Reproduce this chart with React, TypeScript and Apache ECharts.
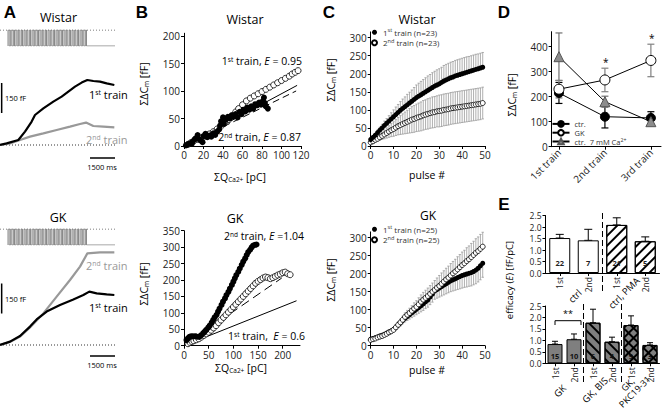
import React, { useEffect, useRef } from "react";
import * as echarts from "echarts";

const FONT = '"Open Sans", "DejaVu Sans", sans-serif';

// ---------- Panel A: capacitance traces (time in ms, ΣΔCm in fF) ----------
const aWistarTime1 = [0, 400, 1100, 1500, 1900, 2100, 2600, 3200, 3700, 4100, 4500, 4900, 5240, 5600, 6000, 6400, 6860];
const aWistarCap1 = [0, 8, 25, 67, 117, 150, 183, 217, 242, 267, 292, 312, 325, 320, 317, 308, 300];
const aWistarTime2 = [0, 600, 1200, 1800, 2600, 3400, 4200, 4800, 5160, 5600, 6200, 6860];
const aWistarCap2 = [0, 8, 25, 42, 58, 75, 92, 105, 112, 95, 92, 88];
const aGkTime1 = [0, 600, 1200, 1800, 2200, 2800, 3600, 4400, 5000, 5360, 5800, 6400, 6860];
const aGkCap1 = [0, 17, 45, 92, 128, 167, 200, 228, 250, 267, 258, 253, 250];
const aGkTime2 = [0, 600, 1200, 1800, 2600, 3400, 4200, 4800, 5240, 6000, 6860];
const aGkCap2 = [0, 15, 42, 88, 158, 242, 325, 392, 458, 463, 463];
// stimulation protocol
const pulseCount = 30;
const pulseStartMs = 480;
const pulsePeriodMs = 160;
const pulseWidthMs = 70;
const traceEndMs = 6900;
const scaleBarFF = 150;
const scaleBarMs = 1500;

// ---------- Panel B: ΣΔCm vs ΣQCa ----------
const bWistarTrain1 = [[2,1],[4,3],[6,5],[8,4],[9,8],[11,12],[12,14],[14,20],[15,13],[17,10],[19,7],[20,18],[22,22],[24,16],[26,19],[28,17],[30,23],[32,20],[34,26],[36,30],[37,37],[38,45],[40,52],[41,40],[43,48],[45,53],[47,50],[49,56],[51,54],[53,58],[55,52],[57,62],[59,58],[61,66],[63,63],[65,70],[67,66],[69,72],[71,68],[73,76],[75,74],[77,79],[79,75],[81,82],[82,88],[83,78],[84,72],[86,68]];
const bWistarTrain2 = [[4,3],[7,6],[10,9],[14,12],[18,15],[22,18],[26,22],[30,26],[34,31],[38,36],[42,42],[46,48],[50,55],[53,62],[56,68],[60,75],[64,82],[68,87],[72,91],[76,95],[80,99],[84,103],[88,107],[92,111],[96,115],[100,119],[104,123],[108,127],[111,131],[114,134],[117,137]];
const bGkTrain1 = [[5,17],[8,22],[11,27],[15,29],[18,28],[22,29],[25,28],[29,27],[32,28],[35,32],[39,38],[42,43],[45,48],[49,55],[52,61],[56,70],[59,78],[62,86],[66,94],[69,104],[72,113],[76,124],[79,134],[83,144],[86,154],[90,164],[93,174],[97,185],[100,195],[103,205],[106,215],[110,225],[113,235],[117,246],[120,256],[124,266],[127,276],[130,285],[134,292],[137,299],[140,305],[144,307],[147,308]];
const bGkTrain2 = [[8,6],[12,10],[16,13],[20,15],[25,18],[30,21],[35,26],[40,31],[45,36],[50,41],[55,47],[60,54],[65,61],[70,70],[75,78],[80,86],[85,94],[90,102],[95,110],[100,118],[105,126],[110,134],[115,142],[120,150],[125,158],[130,166],[135,174],[140,182],[145,190],[150,196],[155,201],[160,206],[165,209],[170,207],[175,204],[180,207],[185,211],[190,215],[195,218],[200,222],[205,224],[210,219],[215,216]];
const bWistarFit = { solidE: 0.95, solidEnd: 116, dashedE: 0.87, dashedEnd: 115 };
const bGkFit = { solidE: 0.6, solidEnd: 228, dashedE: 1.04, dashedEnd: 198 };
const bWistarXTicks = [0, 20, 40, 60, 80, 100, 120];
const bWistarYTicks = [0, 50, 100, 150, 200];
const bGkXTicks = [0, 50, 100, 150, 200];
const bGkYTicks = [0, 50, 100, 150, 200, 250, 300, 350];

// ---------- Panel C: cumulative ΣΔCm per pulse ----------
const cPulses = [0,1,2,3,4,5,6,7,8,9,10,11,12,13,14,15,16,17,18,19,20,21,22,23,24,25,26,27,28,29,30,31,32,33,34,35,36,37,38,39,40,41,42,43,44,45,46,47,48,49];
const cWistarMean1 = [18,24,30,37,44,50,57,63,69,75,81,87,93,99,104,109,114,119,124,129,134,138,142,146,150,154,158,162,166,169,172,176,180,183,186,189,191,194,196,198,200,202,204,206,208,210,212,214,216,218];
const cWistarSem1 = [2,4,5,7,8,10,12,13,15,17,19,21,22,24,26,27,29,30,31,33,35,36,37,38,39,40,40,41,41,42,42,42,43,43,43,43,43,43,43,43,43,43,43,42,42,42,42,41,41,41];
const cWistarMean2 = [10,13,17,20,24,28,32,36,40,44,47,51,55,58,61,64,67,70,73,75,78,80,82,85,87,89,91,93,94,96,97,98,100,101,102,104,105,106,107,108,109,110,111,112,113,114,115,116,117,119];
const cWistarSem2 = [2,3,5,6,8,10,12,14,16,18,20,22,24,26,28,30,32,34,36,37,38,39,40,41,41,42,42,43,43,43,44,44,44,44,44,44,44,44,44,44,44,44,44,44,44,44,44,44,44,44];
const cGkMean1 = [18,20,22,24,27,29,32,35,38,41,45,51,57,63,70,76,81,86,91,96,101,106,111,116,122,127,135,143,152,156,160,164,168,172,176,180,183,186,189,192,195,197,199,201,203,206,210,215,222,229];
const cGkSem1 = [1,1,2,2,2,3,3,3,4,4,5,6,7,8,9,10,11,12,13,14,15,16,17,18,19,20,21,22,23,24,25,26,27,28,29,30,31,32,33,34,35,35,36,36,37,37,38,38,39,39];
const cGkMean2 = [16,18,20,23,25,27,30,33,37,40,44,51,58,65,72,80,86,91,97,103,108,115,122,128,133,138,144,150,155,161,166,172,178,184,189,195,201,206,212,218,224,229,235,240,246,252,258,263,269,275];
const cGkSem2 = [1,1,2,2,3,3,4,4,5,5,6,7,8,9,10,11,12,13,14,16,17,18,19,20,21,22,23,24,26,27,29,30,30,31,32,33,33,34,35,35,36,36,37,37,38,38,39,39,40,40];
const cXTicks = [0, 10, 20, 30, 40, 50];
const cYTicks = [0, 50, 100, 150, 200, 250, 300];

// ---------- Panel D ----------
const dTrains = ["1st train", "2nd train", "3rd train"];
const dCtrMean = [215, 120, 115];
const dCtrSem = [42, 45, 25];
const dGkMean = [230, 267, 345];
const dGkSem = [35, 47, 65];
const dCaMean = [360, 180, 100];
const dCaSem = [95, 22, 15];
const dYTicks = [0, 100, 200, 300, 400];

// ---------- Panel E ----------
const eTopCats = ["1st", "2nd", "1st", "2nd"];
const eTopMean = [1.52, 1.42, 2.09, 1.38];
const eTopSem = [0.16, 0.48, 0.31, 0.19];
const eTopN = [22, 7, 21, 5];
const eBotCats = ["1st", "2nd", "1st", "2nd", "1st", "2nd"];
const eBotMean = [0.84, 1.05, 1.77, 0.94, 1.67, 0.8];
const eBotSem = [0.12, 0.23, 0.59, 0.2, 0.4, 0.1];
const eBotN = [15, 10, 6, 4, 9, 3];

// ---------------------------------------------------------------------------
function zip(xs: number[], ys: number[]) {
  return xs.map((x, i) => [x, ys[i]]);
}

function stimulus() {
  const pts: number[][] = [[pulseStartMs, 0]];
  for (let i = 0; i < pulseCount; i++) {
    const t = pulseStartMs + i * pulsePeriodMs;
    pts.push([t, 0], [t, 1], [t + pulseWidthMs, 1], [t + pulseWidthMs, 0]);
  }
  pts.push([traceEndMs, 0]);
  return pts;
}

function errRender(capHalf: number, color: string, width: number) {
  return (params: any, api: any) => {
    const x = api.value(0);
    const a = api.coord([x, api.value(1)]);
    const b = api.coord([x, api.value(2)]);
    const st = { stroke: color, lineWidth: width };
    return {
      type: "group",
      children: [
        { type: "line", shape: { x1: a[0], y1: a[1], x2: b[0], y2: b[1] }, style: st },
        { type: "line", shape: { x1: b[0] - capHalf, y1: b[1], x2: b[0] + capHalf, y2: b[1] }, style: st },
        { type: "line", shape: { x1: a[0] - capHalf, y1: a[1], x2: a[0] + capHalf, y2: a[1] }, style: st },
      ],
    };
  };
}

const richG = (size: number, fill = "#000") => ({
  n: { fontSize: size, fontFamily: FONT, fill },
  s: { fontSize: size * 0.62, fontFamily: FONT, fill, verticalAlign: "top" },
  b: { fontSize: size * 0.62, fontFamily: FONT, fill, verticalAlign: "bottom" },
  i: { fontSize: size, fontFamily: FONT, fill, fontStyle: "italic" },
});

function txt(x: number, y: number, text: string, o: any = {}) {
  const size = o.size || 11;
  const fill = o.fill || "#000";
  return {
    type: "text",
    x,
    y,
    rotation: o.rotation || 0,
    silent: true,
    style: {
      text,
      fill,
      fontSize: size,
      fontFamily: o.family || FONT,
      fontWeight: o.weight || "normal",
      align: o.align || "center",
      textAlign: o.align || "center",
      verticalAlign: "middle",
      textVerticalAlign: "middle",
      lineHeight: o.lineHeight,
      rich: richG(size, fill),
    },
  };
}

function valueAxis(gridIndex: number, min: number, max: number, extra: any = {}) {
  return {
    type: "value",
    gridIndex,
    min,
    max,
    interval: extra.interval,
    axisLine: { show: true, onZero: false, lineStyle: { color: "#000", width: 1 } },
    axisTick: {
      show: true,
      length: 3,
      lineStyle: { color: "#000", width: 1 },
      customValues: extra.ticks,
    },
    axisLabel: {
      show: true,
      fontFamily: FONT,
      fontSize: extra.fontSize || 10,
      lineHeight: extra.lineHeight,
      color: "#222",
      margin: 4,
      customValues: extra.ticks,
      formatter: extra.formatter,
      rotate: extra.rotate || 0,
    },
    splitLine: { show: false },
  };
}

function catAxis(gridIndex: number, data: string[]) {
  return {
    type: "category",
    gridIndex,
    data,
    axisLine: { show: true, onZero: false, lineStyle: { color: "#000", width: 1 } },
    axisTick: { show: true, length: 3, alignWithLabel: true, lineStyle: { color: "#000" } },
    axisLabel: { show: true, interval: 0, rotate: 90, fontFamily: FONT, fontSize: 8.5, color: "#222", margin: 4 },
    splitLine: { show: false },
  };
}

const hidden = (gridIndex: number, min: number, max: number) => ({ type: "value", gridIndex, min, max, show: false });

function buildOption() {
  const grid = [
    { left: 0, top: 30, width: 120, height: 16 },
    { left: 0, top: 70, width: 120, height: 100 },
    { left: 0, top: 229, width: 120, height: 16 },
    { left: 0, top: 240, width: 120, height: 130 },
    { left: 184, top: 33.25, width: 117, height: 112.75 },
    { left: 184, top: 230.7, width: 116, height: 115 },
    { left: 370.7, top: 31.9, width: 114.3, height: 114.1 },
    { left: 370.7, top: 231.9, width: 114.3, height: 113.8 },
    { left: 551.6, top: 31.7, width: 109.4, height: 115 },
    { left: 545.5, top: 215.5, width: 114, height: 57.5 },
    { left: 545.5, top: 306, width: 114, height: 57.3 },
  ].map((g) => ({ ...g, outerBoundsMode: "none", containLabel: false }));

  const eTickFmt = (v: number) => v.toFixed(1);
  const xAxis = [
    hidden(0, 0, 7200),
    hidden(1, 0, 7200),
    hidden(2, 0, 7200),
    hidden(3, 0, 7200),
    valueAxis(4, 0, 120, { ticks: bWistarXTicks }),
    valueAxis(5, 0, 235, { ticks: bGkXTicks }),
    valueAxis(6, 0, 50, { ticks: cXTicks }),
    valueAxis(7, 0, 50, { ticks: cXTicks }),
    valueAxis(8, -0.16, 2.22, { ticks: [0, 1, 2], rotate: 45, formatter: (v: number) => dTrains[Math.round(v)] || "" }),
    catAxis(9, eTopCats),
    catAxis(10, eBotCats),
  ];
  const yAxis = [
    hidden(0, 0, 1),
    hidden(1, -125, 375),
    hidden(2, 0, 1),
    hidden(3, -125, 525),
    valueAxis(4, 0, 205, { ticks: bWistarYTicks }),
    valueAxis(5, 0, 350, { ticks: bGkYTicks }),
    valueAxis(6, 0, 316, { ticks: cYTicks }),
    valueAxis(7, 0, 316, { ticks: cYTicks }),
    valueAxis(8, 0, 460, { ticks: dYTicks }),
    valueAxis(9, 0, 2.5, { interval: 0.5, fontSize: 8.5, lineHeight: 9, formatter: eTickFmt }),
    valueAxis(10, 0, 2.5, { interval: 0.5, fontSize: 8.5, lineHeight: 9, formatter: eTickFmt }),
  ];

  const line = (idx: number, data: any, color: string, width: number, type: any = "solid", z = 2) => ({
    type: "line",
    xAxisIndex: idx,
    yAxisIndex: idx,
    data,
    showSymbol: false,
    symbol: "none",
    silent: true,
    z,
    lineStyle: { color, width, type },
  });

  const series: any[] = [];
  // ---- A: Wistar
  series.push(line(0, [[0, 1], [traceEndMs, 1]], "#555", 1, [1, 2]));
  series.push(line(0, stimulus(), "#8a8a8a", 1));
  series.push(line(1, [[0, 0], [traceEndMs, 0]], "#333", 1, [1, 2]));
  series.push(line(1, zip(aWistarTime2, aWistarCap2), "#999", 2.2));
  series.push(line(1, zip(aWistarTime1, aWistarCap1), "#000", 2.2));
  series.push(line(1, [[100, 160], [100, 160 + scaleBarFF]], "#000", 1.5));
  series.push(line(1, [[traceEndMs - scaleBarMs, -65], [traceEndMs, -65]], "#000", 1.5));
  // ---- A: GK
  series.push(line(2, [[0, 1], [traceEndMs, 1]], "#555", 1, [1, 2]));
  series.push(line(2, stimulus(), "#8a8a8a", 1));
  series.push(line(3, [[0, 0], [traceEndMs, 0]], "#333", 1, [1, 2]));
  series.push(line(3, zip(aGkTime2, aGkCap2), "#999", 2.2));
  series.push(line(3, zip(aGkTime1, aGkCap1), "#000", 2.2));
  series.push(line(3, [[100, 158], [100, 158 + scaleBarFF]], "#000", 1.5));
  series.push(line(3, [[traceEndMs - scaleBarMs, -55], [traceEndMs, -55]], "#000", 1.5));

  // ---- B
  const openSc = (idx: number, data: any, size = 6) => ({
    type: "scatter", xAxisIndex: idx, yAxisIndex: idx, data, symbol: "circle", symbolSize: size, silent: true,
    itemStyle: { color: "#fff", borderColor: "#000", borderWidth: 0.8, opacity: 1 },
  });
  const fillSc = (idx: number, data: any, size = 6) => ({
    type: "scatter", xAxisIndex: idx, yAxisIndex: idx, data, symbol: "circle", symbolSize: size, silent: true,
    itemStyle: { color: "#000", borderColor: "#000", borderWidth: 0, opacity: 1 },
  });
  series.push(openSc(4, bWistarTrain2));
  series.push(line(4, [[0, 0], [bWistarFit.solidEnd, bWistarFit.solidE * bWistarFit.solidEnd]], "#000", 1));
  series.push(line(4, [[0, 0], [bWistarFit.dashedEnd, bWistarFit.dashedE * bWistarFit.dashedEnd]], "#000", 1, [7, 4]));
  series.push(fillSc(4, bWistarTrain1));
  series.push(openSc(5, bGkTrain2));
  series.push(line(5, [[0, 0], [bGkFit.solidEnd, bGkFit.solidE * bGkFit.solidEnd]], "#000", 1));
  series.push(line(5, [[0, 0], [bGkFit.dashedEnd, bGkFit.dashedE * bGkFit.dashedEnd]], "#000", 1, [9, 5]));
  series.push(fillSc(5, bGkTrain1));

  // ---- C
  const cErr = (idx: number, data: any) => ({
    type: "custom", xAxisIndex: idx, yAxisIndex: idx, data, silent: true, z: 1,
    encode: { x: 0, y: [1, 2] },
    renderItem: errRender(1.2, "#9a9a9a", 0.8),
  });
  series.push(cErr(6, cPulses.map((p, i) => [p, cWistarMean1[i], cWistarMean1[i] + cWistarSem1[i]])));
  series.push(cErr(6, cPulses.map((p, i) => [p, cWistarMean2[i] - cWistarSem2[i], cWistarMean2[i] + cWistarSem2[i]])));
  series.push({ ...openSc(6, zip(cPulses, cWistarMean2), 5), name: "cW2" });
  series.push({ ...fillSc(6, zip(cPulses, cWistarMean1), 5), name: "cW1" });
  series.push(cErr(7, cPulses.map((p, i) => [p, cGkMean1[i], cGkMean1[i] - cGkSem1[i]])));
  series.push(cErr(7, cPulses.map((p, i) => [p, cGkMean2[i], cGkMean2[i] + cGkSem2[i]])));
  series.push({ ...fillSc(7, zip(cPulses, cGkMean1), 5), name: "cG1" });
  series.push({ ...openSc(7, zip(cPulses, cGkMean2), 5), name: "cG2" });

  // ---- D
  const dErr = (mean: number[], sem: number[], color: string) => ({
    type: "custom", xAxisIndex: 8, yAxisIndex: 8, silent: true, z: 1,
    encode: { x: 0, y: [1, 2] },
    data: mean.map((m, i) => [i, m - sem[i], m + sem[i]]),
    renderItem: errRender(3.5, color, 1.2),
  });
  series.push(dErr(dCtrMean, dCtrSem, "#000"));
  series.push(dErr(dCaMean, dCaSem, "#707070"));
  series.push(dErr(dGkMean, dGkSem, "#808080"));
  const dLine = (name: string, mean: number[], symbol: string, size: number, itemStyle: any) => ({
    type: "line", name, xAxisIndex: 8, yAxisIndex: 8, z: 3,
    data: mean.map((m, i) => [i, m]),
    symbol, symbolSize: size, showSymbol: true, silent: true,
    lineStyle: { color: "#000", width: 1 },
    itemStyle,
  });
  series.push(dLine("ctr.", dCtrMean, "circle", 9, { color: "#000", borderColor: "#000", borderWidth: 1 }));
  series.push(dLine("ctr. 7 mM Ca2+", dCaMean, "triangle", 10, { color: "#8c8c8c", borderColor: "#555", borderWidth: 1 }));
  series.push(dLine("GK", dGkMean, "circle", 10, { color: "#fff", borderColor: "#000", borderWidth: 1 }));

  // ---- E
  const hatch = (rot: number) => ({
    symbol: "rect", symbolSize: 1, dashArrayX: [1, 0], dashArrayY: [1.2, 5], rotation: rot, color: "#000",
  });
  const topData = eTopMean.map((m, i) => ({
    value: m,
    itemStyle: {
      color: "#fff", borderColor: "#000", borderWidth: 1,
      ...(i >= 2 ? { decal: hatch(-Math.PI / 4) } : {}),
    },
  }));
  series.push({
    type: "custom", xAxisIndex: 9, yAxisIndex: 9, silent: true, z: 1, encode: { x: 0, y: [1, 2] },
    data: eTopMean.map((m, i) => [i, m, m + eTopSem[i]]),
    renderItem: errRender(4, "#000", 1),
  });
  series.push({
    type: "bar", xAxisIndex: 9, yAxisIndex: 9, data: topData, barWidth: 21, silent: true, z: 2,
    label: {
      show: true, position: "insideBottom", distance: 6, fontFamily: FONT, fontSize: 7.5, fontWeight: "bold", color: "#222",
      formatter: (p: any) => String(eTopN[p.dataIndex]),
    },
  });
  const botData = eBotMean.map((m, i) => ({
    value: m,
    itemStyle: {
      color: "#7f7f7f", borderColor: "#000", borderWidth: 1,
      ...(i >= 2 ? { decal: hatch(Math.PI / 4) } : {}),
    },
  }));
  series.push({
    type: "custom", xAxisIndex: 10, yAxisIndex: 10, silent: true, z: 1, encode: { x: 0, y: [1, 2] },
    data: eBotMean.map((m, i) => [i, m, m + eBotSem[i]]),
    renderItem: errRender(3, "#000", 1),
  });
  series.push({
    type: "bar", xAxisIndex: 10, yAxisIndex: 10, data: botData, barWidth: 15, barGap: "-100%", silent: true, z: 2,
    label: {
      show: true, position: "insideBottom", distance: 3, fontFamily: FONT, fontSize: 7.5, fontWeight: "bold", color: "#111",
      formatter: (p: any) => String(eBotN[p.dataIndex]),
    },
  });
  series.push({
    type: "bar", xAxisIndex: 10, yAxisIndex: 10, barWidth: 15, barGap: "-100%", silent: true, z: 3,
    data: eBotMean.map((m, i) =>
      i >= 4 ? { value: m, itemStyle: { color: "rgba(0,0,0,0)", borderWidth: 0, decal: hatch(-Math.PI / 4) } } : "-"
    ),
  });

  const legendText: Record<string, string> = {
    cW1: "{n|1}{s|st}{n| train (n=23)}",
    cW2: "{n|2}{s|nd}{n| train (n=23)}",
    cG1: "{n|1}{s|st}{n| train (n=25)}",
    cG2: "{n|2}{s|nd}{n| train (n=25)}",
    "ctr.": "{n|ctr.}",
    GK: "{n|GK}",
    "ctr. 7 mM Ca2+": "{n|ctr.  7 mM Ca}{s|2+}",
  };
  const legRich = (size: number) => ({
    n: { fontSize: size, fontFamily: FONT, color: "#333" },
    s: { fontSize: size * 0.7, fontFamily: FONT, color: "#333", verticalAlign: "top" },
  });
  const mkLegend = (data: string[], left: number, top: number, iw: number, ih: number, size: number, lh: number, pad = 5) => ({
    data,
    orient: "vertical",
    left,
    top,
    itemWidth: iw,
    itemHeight: ih,
    itemGap: 0,
    padding: 0,
    selectedMode: false,
    formatter: (name: string) => legendText[name],
    textStyle: { fontSize: size, lineHeight: lh, fontFamily: FONT, color: "#333", rich: legRich(size), padding: [0, 0, 0, pad - 5] },
  });
  const legend = [
    mkLegend(["cW1", "cW2"], 371, 27, 5, 5, 8, 10.5, 6),
    mkLegend(["cG1", "cG2"], 371, 224, 5, 5, 8, 10.5, 6),
    mkLegend(["ctr.", "GK", "ctr. 7 mM Ca2+"], 551.5, 119.5, 17, 7, 7.5, 8.8),
  ];

  const bold = { size: 17, weight: "bold", family: '"Liberation Sans", Arial, sans-serif' };
  const yName = "{n|ΣΔC}{b|m}{n| [fF]}";
  const xQName = "{n|ΣQ}{b|Ca2+}{n| [pC]}";
  const graphic: any[] = [
    txt(10, 12, "A", bold),
    txt(142, 12, "B", bold),
    txt(329, 12, "C", bold),
    txt(504, 12, "D", bold),
    txt(504, 204, "E", bold),
    // titles
    txt(58.5, 17, "Wistar", { size: 12.5 }),
    txt(58, 217, "GK", { size: 12.5 }),
    txt(245, 19, "Wistar", { size: 12.5 }),
    txt(235, 218, "GK", { size: 12.5 }),
    txt(417, 19, "Wistar", { size: 12.5 }),
    txt(428, 215.5, "GK", { size: 12 }),
    // A annotations
    txt(89, 94, "{n|1}{s|st}{n| train}", { align: "left", size: 11 }),
    txt(86, 139, "{n|2}{s|nd}{n| train}", { align: "left", size: 11, fill: "#999" }),
    txt(86, 265, "{n|2}{s|nd}{n| train}", { align: "left", size: 11, fill: "#999" }),
    txt(89, 307, "{n|1}{s|st}{n| train}", { align: "left", size: 11 }),
    txt(5, 98, "150 fF", { align: "left", size: 7.5 }),
    txt(5, 299, "150 fF", { align: "left", size: 7.5 }),
    txt(102, 167, "1500 ms", { size: 7.5 }),
    txt(102, 365, "1500 ms", { size: 7.5 }),
    // B annotations
    txt(302, 61, "{n|1}{s|st}{n| train, }{i|E}{n| = 0.95}", { align: "right", size: 10.5 }),
    txt(301, 137, "{n|2}{s|nd}{n| train, }{i|E}{n| = 0.87}", { align: "right", size: 10.5 }),
    txt(304, 236, "{n|2}{s|nd}{n| train, }{i|E}{n| =1.04}", { align: "right", size: 10.5 }),
    txt(305, 336, "{n|1}{s|st}{n| train,  }{i|E}{n| = 0.6}", { align: "right", size: 10.5 }),
    txt(240, 177, xQName, { size: 10.5 }),
    txt(241, 368, xQName, { size: 10.5 }),
    txt(144, 84, yName, { size: 10.5, rotation: Math.PI / 2 }),
    txt(144, 284, yName, { size: 10.5, rotation: Math.PI / 2 }),
    // C
    txt(331, 80, yName, { size: 10.5, rotation: Math.PI / 2 }),
    txt(331, 280, yName, { size: 10.5, rotation: Math.PI / 2 }),
    txt(427, 175, "pulse #", { size: 10.5 }),
    txt(427, 370, "pulse #", { size: 10.5 }),
    // D
    txt(512, 95, yName, { size: 10.5, rotation: Math.PI / 2 }),
    txt(605.7, 62, "*", { size: 10 }),
    txt(651.7, 38, "*", { size: 10 }),
    // E
    txt(509, 280, "{n|efficacy (}{i|E}{n|) [fF/pC]}", { size: 9.5, rotation: Math.PI / 2 }),
    txt(575, 296, "ctrl", { size: 9.5, rotation: Math.PI / 4 }),
    txt(624, 293, "ctrl, PMA", { size: 9.5, rotation: Math.PI / 4 }),
    txt(560, 391, "GK", { size: 9.5, rotation: Math.PI / 4 }),
    txt(595, 390, "GK, BIS", { size: 9.5, rotation: Math.PI / 4 }),
    txt(631, 388, "GK,\nPKC19-31", { size: 9, rotation: Math.PI / 4, lineHeight: 10 }),
    txt(568, 313, "**", { size: 9 }),
    {
      type: "polyline", silent: true,
      shape: { points: [[555, 325], [555, 320.7], [581, 320.7], [581, 325]] },
      style: { stroke: "#000", fill: null, lineWidth: 1 },
    },
    { type: "line", silent: true, shape: { x1: 602.5, y1: 213, x2: 602.5, y2: 293 }, style: { stroke: "#000", lineWidth: 1, lineDash: [6, 3] } },
    { type: "line", silent: true, shape: { x1: 583.5, y1: 304, x2: 583.5, y2: 383 }, style: { stroke: "#000", lineWidth: 1, lineDash: [6, 3] } },
    { type: "line", silent: true, shape: { x1: 621.5, y1: 304, x2: 621.5, y2: 383 }, style: { stroke: "#000", lineWidth: 1, lineDash: [6, 3] } },
  ];

  return {
    animation: false,
    backgroundColor: "#fff",
    textStyle: { fontFamily: FONT },
    grid,
    xAxis,
    yAxis,
    legend,
    series,
    graphic,
  };
}

export default function App() {
  const ref = useRef<HTMLDivElement>(null);
  useEffect(() => {
    const chart = echarts.init(ref.current!, null, { renderer: "svg" });
    chart.setOption(buildOption() as any);
    return () => chart.dispose();
  }, []);
  return (
    <div
      ref={ref}
      style={{ position: "fixed", left: 0, top: 0, width: 664, height: 410, background: "#fff" }}
    />
  );
}
